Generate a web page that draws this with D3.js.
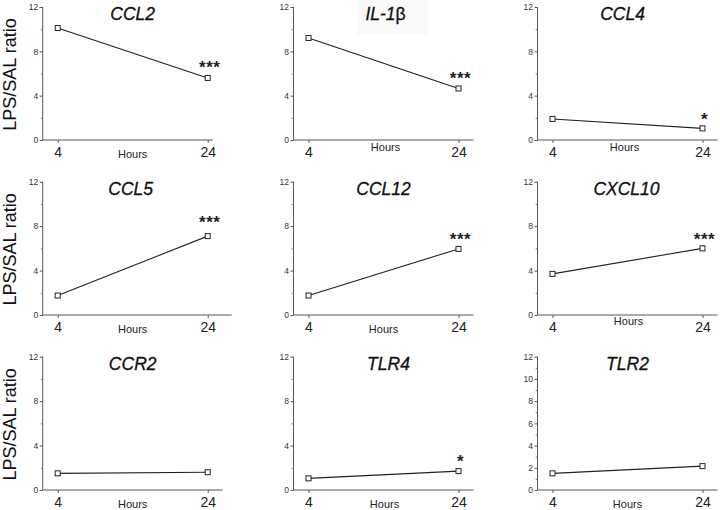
<!DOCTYPE html>
<html>
<head>
<meta charset="utf-8">
<script src="https://cdn.jsdelivr.net/npm/d3@7"></script>
<style>
  html, body { margin: 0; padding: 0; background: #fff; }
  svg { display: block; font-family: Arial, "Liberation Sans", Helvetica, sans-serif; }
</style>
</head>
<body>
<svg id="chart" width="720" height="510"></svg>
<script>
// ---------------- DATA ----------------
const genes = ["CCL2", "IL-1β", "CCL4", "CCL5", "CCL12", "CXCL10", "CCR2", "TLR4", "TLR2"];
const hours = [4, 24];
const ratio4h  = [10.1, 9.2, 1.9, 1.75, 1.75, 3.7, 1.5, 1.05, 1.5];
const ratio24h = [5.6, 4.65, 1.05, 7.1, 5.95, 6.0, 1.6, 1.7, 2.15];
const significance = ["***", "***", "*", "***", "***", "***", "", "*", ""];
const yTicksDefault = [0, 4, 8, 12];
const yTicksTLR2 = [0, 2, 4, 6, 8, 10, 12];
const xTickLabels = ["4", "24"];
const yLabel = "LPS/SAL ratio";
const xLabel = "Hours";

// ---------------- LAYOUT ----------------
const colAxisX = [42.7, 293.5, 537.5];
const rowTop = [7, 181.7, 356.7];
const rowBottom = [140, 315, 490];
const xEnd = [24.7, 26, 26, 27.2, 26, 26, 26, 26, 26];
const titleDx = [90, 92, 85, 88, 90, 89, 90, 95, 90];
const hoursDy = [14, 7, 7, 14, 14, 6, 14, 14, 14];
const hoursDx = [90, 92, 87, 90, 90, 91, 90, 91, 90];
const starDy = [5, 4, 3, 8, 4, 3, 0, 4, 0];

const svg = d3.select("#chart");

genes.forEach((gene, i) => {
  const col = i % 3, row = Math.floor(i / 3);
  const ax = colAxisX[col];
  const top = rowTop[row], bot = rowBottom[row];
  const x = d3.scaleLinear().domain([2, xEnd[i]]).range([ax, ax + (xEnd[i] - 2) * 7.5]);
  const y = d3.scaleLinear().domain([0, 12]).range([bot, top]);
  const g = svg.append("g");

  const majors = gene === "TLR2" ? yTicksTLR2 : yTicksDefault;
  const minors = gene === "TLR2" ? d3.range(1, 12, 2) : d3.range(2, 12, 4);

  if (gene === "IL-1β") {
    g.append("rect").attr("x", ax + 64).attr("y", 0).attr("width", 70).attr("height", 35)
      .attr("fill", "#f9f9f9");
  }

  // y axis
  const yAxis = d3.axisLeft(y).tickValues(majors).tickSize(3).tickPadding(1.5).tickFormat(d3.format("d"));
  const ya = g.append("g").attr("transform", `translate(${ax},0)`).call(yAxis);
  ya.select(".domain").attr("stroke", "#555").attr("d", `M0,${y(12)}V${y(0)}`);
  ya.selectAll(".tick line").attr("stroke", "#555");
  ya.selectAll(".tick text").attr("font-size", 8.5).attr("fill", "#333")
    .attr("font-family", "Arial, 'Liberation Sans', sans-serif");
  const ym = d3.axisLeft(y).tickValues(minors).tickSize(1.8).tickFormat("");
  const ymg = g.append("g").attr("transform", `translate(${ax},0)`).call(ym);
  ymg.select(".domain").remove();
  ymg.selectAll(".tick line").attr("stroke", "#777");

  // x axis
  const xAxis = d3.axisBottom(x).tickValues(hours).tickSize(3).tickPadding(4)
    .tickFormat((d, k) => xTickLabels[k]);
  const xa = g.append("g").attr("transform", `translate(0,${bot})`).call(xAxis);
  xa.select(".domain").attr("stroke", "#555").attr("d", `M${x(2)},0H${x(xEnd[i])}`);
  xa.selectAll(".tick line").attr("stroke", "#555");
  xa.selectAll(".tick text").attr("font-size", 14).attr("fill", "#222")
    .attr("font-family", "Arial, 'Liberation Sans', sans-serif");

  // Hours label
  g.append("text").attr("x", ax + hoursDx[i]).attr("y", bot + hoursDy[i] + 4)
    .attr("text-anchor", "middle").attr("font-size", 11).attr("fill", "#222")
    .text(xLabel);

  // title
  const t = g.append("text").attr("x", ax + titleDx[i]).attr("y", top + 13)
    .attr("text-anchor", "middle").attr("font-size", 17.5).attr("font-style", "italic")
    .attr("fill", "#111").attr("stroke", "#111").attr("stroke-width", 0.3);
  if (gene === "IL-1β") {
    t.append("tspan").text("IL-1");
    t.append("tspan").attr("font-style", "normal").text("β");
  } else {
    t.text(gene);
  }

  // data
  const pts = hours.map((h, k) => ({ h, v: k === 0 ? ratio4h[i] : ratio24h[i] }));
  g.append("path").datum(pts)
    .attr("d", d3.line().x(d => x(d.h)).y(d => y(d.v)))
    .attr("fill", "none").attr("stroke", "#222").attr("stroke-width", 1.1);
  g.selectAll("rect.pt").data(pts).join("rect").attr("class", "pt")
    .attr("x", d => x(d.h) - 2.5).attr("y", d => y(d.v) - 2.5)
    .attr("width", 5).attr("height", 5)
    .attr("fill", "#fff").attr("stroke", "#222").attr("stroke-width", 1);

  // significance
  if (significance[i]) {
    g.append("text").attr("x", x(24) + 2).attr("y", y(ratio24h[i]) - starDy[i])
      .attr("text-anchor", "middle").attr("font-size", 17).attr("font-weight", "bold")
      .attr("letter-spacing", 0.5)
      .attr("fill", "#222").text(significance[i]);
  }
});

// Y labels for each row
rowTop.forEach((top, r) => {
  const cy = (top + rowBottom[r]) / 2 + 1;
  svg.append("text").attr("transform", `translate(16,${cy}) rotate(-90)`)
    .attr("text-anchor", "middle").attr("font-size", 18).attr("fill", "#111")
    .text(yLabel);
});
</script>
</body>
</html>
